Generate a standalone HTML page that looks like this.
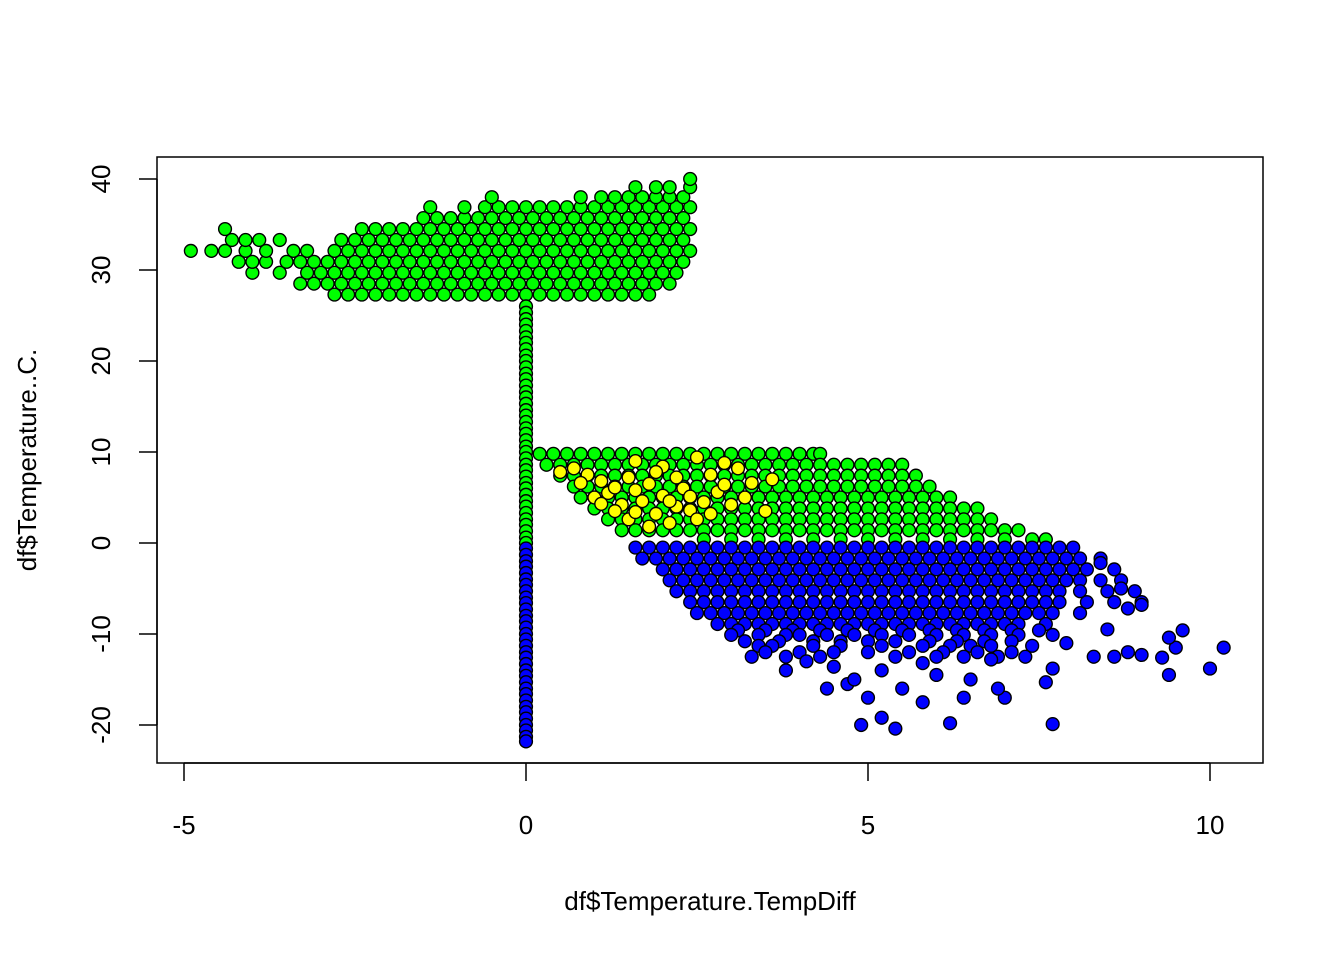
<!DOCTYPE html>
<html><head><meta charset="utf-8"><style>
body{margin:0;background:#fff}
svg{display:block;font-family:"Liberation Sans",Arial,sans-serif}
</style></head><body>
<svg id="chart" width="1344" height="960" viewBox="0 0 1344 960">
<rect x="157" y="157" width="1106" height="606" fill="none" stroke="#000" stroke-width="1.5"/>
<g id="pts"></g>
<g id="axes"></g>
<text x="710" y="910" text-anchor="middle" font-size="26">df$Temperature.TempDiff</text>
<text transform="translate(36,460) rotate(-90)" text-anchor="middle" font-size="26">df$Temperature..C.</text>
</svg>
<script>
const xTicks=[-5,0,5,10];
const yTicks=[-20,-10,0,10,20,30,40];
const greenTopRows=[
[27.3,[-2.8,-2.6,-2.4,-2.2,-2,-1.8,-1.6,-1.4,-1.2,-1,-0.8,-0.6,-0.4,-0.2,0,0.2,0.4,0.6,0.8,1,1.2,1.4,1.6,1.8]],
[28.5,[-3.3,-3.1,-2.9,-2.7,-2.5,-2.3,-2.1,-1.9,-1.7,-1.5,-1.3,-1.1,-0.9,-0.7,-0.5,-0.3,-0.1,0.1,0.3,0.5,0.7,0.9,1.1,1.3,1.5,1.7,1.9,2.1]],
[29.7,[-4,-3.6,-3.2,-3,-2.8,-2.6,-2.4,-2.2,-2,-1.8,-1.6,-1.4,-1.2,-1,-0.8,-0.6,-0.4,-0.2,0,0.2,0.4,0.6,0.8,1,1.2,1.4,1.6,1.8,2,2.2]],
[30.9,[-4.2,-4,-3.8,-3.5,-3.3,-3.1,-2.9,-2.7,-2.5,-2.3,-2.1,-1.9,-1.7,-1.5,-1.3,-1.1,-0.9,-0.7,-0.5,-0.3,-0.1,0.1,0.3,0.5,0.7,0.9,1.1,1.3,1.5,1.7,1.9,2.1,2.3]],
[32.1,[-4.9,-4.6,-4.4,-4.1,-3.8,-3.4,-3.2,-2.8,-2.6,-2.4,-2.2,-2,-1.8,-1.6,-1.4,-1.2,-1,-0.8,-0.6,-0.4,-0.2,0,0.2,0.4,0.6,0.8,1,1.2,1.4,1.6,1.8,2,2.2,2.4]],
[33.3,[-4.3,-4.1,-3.9,-3.6,-2.7,-2.5,-2.3,-2.1,-1.9,-1.7,-1.5,-1.3,-1.1,-0.9,-0.7,-0.5,-0.3,-0.1,0.1,0.3,0.5,0.7,0.9,1.1,1.3,1.5,1.7,1.9,2.1,2.3]],
[34.5,[-4.4,-2.4,-2.2,-2,-1.8,-1.6,-1.4,-1.2,-1,-0.8,-0.6,-0.4,-0.2,0,0.2,0.4,0.6,0.8,1,1.2,1.4,1.6,1.8,2,2.2,2.4]],
[35.7,[-1.5,-1.3,-1.1,-0.9,-0.7,-0.5,-0.3,-0.1,0.1,0.3,0.5,0.7,0.9,1.1,1.3,1.5,1.7,1.9,2.1,2.3]],
[36.9,[-1.4,-0.9,-0.6,-0.4,-0.2,0,0.2,0.4,0.6,0.8,1,1.2,1.4,1.6,1.8,2,2.2,2.4]],
[38,[-0.5,0.8,1.1,1.3,1.5,1.7,1.9,2.1,2.3]],
[39.1,[1.6,1.9,2.1,2.4]],
[40,[2.4]]
];
const vertGreenY=[26,25.3,24.6,24,23.3,22.6,22,21.3,20.6,20,19.3,18.6,18,17.3,16.6,16,15.3,14.6,14,13.3,12.6,12,11.3,10.6,10,9.3,8.6,8,7.3,6.6,6,5.3,4.6,4,3.3,2.6,2,1.3,0.6,0];
const vertBlueY=[-0.6,-1.3,-2,-2.6,-3.3,-4,-4.6,-5.3,-6,-6.6,-7.3,-8,-8.6,-9.3,-10,-10.6,-11.3,-12,-12.6,-13.3,-14,-14.6,-15.3,-16,-16.6,-17.3,-18,-18.6,-19.3,-20,-20.6,-21.3,-21.8];
const greenTriRows=[
[9.8,[0.2,0.4,0.6,0.8,1,1.2,1.4,1.6,1.8,2,2.2,2.4,2.6,2.8,3,3.2,3.4,3.6,3.8,4,4.2,4.3]],
[8.6,[0.3,0.5,0.7,0.9,1.1,1.3,1.5,1.7,1.9,2.1,2.3,2.5,2.7,2.9,3.1,3.3,3.5,3.7,3.9,4.1,4.3,4.5,4.7,4.9,5.1,5.3,5.5]],
[7.4,[0.5,0.7,0.9,1.1,1.3,1.5,1.7,1.9,2.1,2.3,2.5,2.7,2.9,3.1,3.3,3.5,3.7,3.9,4.1,4.3,4.5,4.7,4.9,5.1,5.3,5.5,5.7]],
[6.2,[0.7,0.9,1.1,1.3,1.5,1.7,1.9,2.1,2.3,2.5,2.7,2.9,3.1,3.3,3.5,3.7,3.9,4.1,4.3,4.5,4.7,4.9,5.1,5.3,5.5,5.7,5.9]],
[5,[0.8,1,1.2,1.4,1.6,1.8,2,2.2,2.4,2.6,2.8,3,3.2,3.4,3.6,3.8,4,4.2,4.4,4.6,4.8,5,5.2,5.4,5.6,5.8,6,6.2]],
[3.8,[1,1.2,1.4,1.6,1.8,2,2.2,2.4,2.6,2.8,3,3.2,3.4,3.6,3.8,4,4.2,4.4,4.6,4.8,5,5.2,5.4,5.6,5.8,6,6.2,6.4,6.6]],
[2.6,[1.2,1.4,1.6,1.8,2,2.2,2.4,2.6,2.8,3,3.2,3.4,3.6,3.8,4,4.2,4.4,4.6,4.8,5,5.2,5.4,5.6,5.8,6,6.2,6.4,6.6,6.8]],
[1.4,[1.4,1.6,1.8,2,2.2,2.4,2.6,2.8,3,3.2,3.4,3.6,3.8,4,4.2,4.4,4.6,4.8,5,5.2,5.4,5.6,5.8,6,6.2,6.4,6.6,6.8,7,7.2]],
[0.4,[2.6,3,3.4,3.8,4.2,4.6,5,5.4,5.8,6.2,6.6,7,7.4,7.6]]
];
const yellowPts=[[0.7,8.2],[0.9,7.5],[1.1,6.8],[1.2,5.5],[1,5],[1.4,4.2],[1.6,5.8],[1.8,6.5],[1.5,7.2],[2,5.2],[2.2,4],[1.9,3.2],[2.4,3.6],[2.6,4.5],[2.3,6],[2.7,7.5],[2.9,8.8],[3.1,8.2],[3.3,6.6],[2.5,2.6],[1.8,1.8],[2.1,2.2],[3.5,3.5],[3,4.2],[1.3,3.5],[2.8,5.6],[2,8.4],[2.5,9.4],[1.6,9],[0.5,7.8],[3.6,7],[3.2,5],[1.7,4.6],[2.2,7.2],[1.5,2.6],[2.7,3.2],[1.3,6.1],[1.1,4.3],[2.4,5.1],[1.9,7.8],[0.8,6.6],[2.9,6.4],[1.6,3.4],[2.1,4.6]];
const blueRows=[
[-0.5,[1.6,1.8,2,2.2,2.4,2.6,2.8,3,3.2,3.4,3.6,3.8,4,4.2,4.4,4.6,4.8,5,5.2,5.4,5.6,5.8,6,6.2,6.4,6.6,6.8,7,7.2,7.4,7.6,7.8,8]],
[-1.7,[1.7,1.9,2.1,2.3,2.5,2.7,2.9,3.1,3.3,3.5,3.7,3.9,4.1,4.3,4.5,4.7,4.9,5.1,5.3,5.5,5.7,5.9,6.1,6.3,6.5,6.7,6.9,7.1,7.3,7.5,7.7,7.9,8.1,8.4]],
[-2.9,[2,2.2,2.4,2.6,2.8,3,3.2,3.4,3.6,3.8,4,4.2,4.4,4.6,4.8,5,5.2,5.4,5.6,5.8,6,6.2,6.4,6.6,6.8,7,7.2,7.4,7.6,7.8,8,8.2,8.6]],
[-4.1,[2.1,2.3,2.5,2.7,2.9,3.1,3.3,3.5,3.7,3.9,4.1,4.3,4.5,4.7,4.9,5.1,5.3,5.5,5.7,5.9,6.1,6.3,6.5,6.7,6.9,7.1,7.3,7.5,7.7,7.9,8.1,8.4,8.7]],
[-5.3,[2.2,2.4,2.6,2.8,3,3.2,3.4,3.6,3.8,4,4.2,4.4,4.6,4.8,5,5.2,5.4,5.6,5.8,6,6.2,6.4,6.6,6.8,7,7.2,7.4,7.6,7.8,8.1,8.5,8.9]],
[-6.5,[2.4,2.6,2.8,3,3.2,3.4,3.6,3.8,4,4.2,4.4,4.6,4.8,5,5.2,5.4,5.6,5.8,6,6.2,6.4,6.6,6.8,7,7.2,7.4,7.6,7.8,8.2,8.6,9]],
[-7.7,[2.5,2.7,2.9,3.1,3.3,3.5,3.7,3.9,4.1,4.3,4.5,4.7,4.9,5.1,5.3,5.5,5.7,5.9,6.1,6.3,6.5,6.7,6.9,7.1,7.3,7.5,7.7,8.1]],
[-8.9,[2.8,3,3.2,3.4,3.6,3.8,4,4.2,4.4,4.6,4.8,5,5.2,5.4,5.6,5.8,6,6.2,6.4,6.6,6.8,7,7.2,7.6]],
[-9.6,[3.1,3.5,3.9,4.3,4.7,5.1,5.5,5.9,6.3,6.7,7.1,7.5]],
[-10.1,[3,3.4,3.8,4,4.4,4.8,5.2,5.6,6,6.4,6.8,7.2,7.7]],
[-10.8,[3.2,3.7,4.2,4.6,5,5.4,5.9,6.3,6.7,7.1]],
[-11.3,[3.4,3.6,4.2,4.6,5.2,5.8,6.2,6.5,6.8,7.4]],
[-12,[3.5,4,4.5,5,5.6,6.1,6.6,7.1]],
[-12.5,[3.3,3.8,4.3,5.4,6,6.4,6.9,7.3]]
];
const blueOutliers=[[8.3,-12.5],[8.6,-12.5],[9,-12.3],[9.3,-12.6],[9.5,-11.5],[9.6,-9.6],[9.4,-14.5],[10.2,-11.5],[10,-13.8],[9.4,-10.4],[4.9,-20],[5.2,-19.2],[5.4,-20.4],[6.2,-19.8],[7.7,-19.9],[5,-17],[5.8,-17.5],[6.4,-17],[7,-17],[4.4,-16],[5.5,-16],[6.9,-16],[7.6,-15.3],[4.7,-15.5],[3.8,-14],[5.2,-14],[6.5,-15],[8.8,-12],[8.5,-9.5],[8.8,-7.2],[9,-6.8],[8.7,-5],[8.4,-2.2],[7.9,-11],[7.7,-13.8],[4.1,-13],[6,-14.5],[4.5,-13.6],[5.8,-13.2],[6.8,-12.8],[4.8,-15]];

const xs=v=>526+v*68.4;
const ys=v=>543-v*9.1;
const NS='http://www.w3.org/2000/svg';
const pts=document.getElementById('pts');
const axes=document.getElementById('axes');
function dot(x,y,col,name){
  const c=document.createElementNS(NS,'circle');
  c.setAttribute('cx',xs(x));c.setAttribute('cy',ys(y));c.setAttribute('r',6.4);
  c.setAttribute('fill',col);c.setAttribute('stroke','#000');c.setAttribute('stroke-width',1.4);
  
  
  pts.appendChild(c);
}
greenTopRows.forEach(r=>r[1].forEach(x=>dot(x,r[0],'#00ff00','point-green')));
vertGreenY.forEach(y=>dot(0,y,'#00ff00','point-green'));
vertBlueY.forEach(y=>dot(0,y,'#0000ff','point-blue'));
greenTriRows.forEach(r=>r[1].forEach(x=>dot(x,r[0],'#00ff00','point-green')));
yellowPts.forEach(p=>dot(p[0],p[1],'#ffff00','point-yellow'));
blueRows.forEach(r=>r[1].forEach(x=>dot(x,r[0],'#0000ff','point-blue')));
blueOutliers.forEach(p=>dot(p[0],p[1],'#0000ff','point-blue'));

function line(x1,y1,x2,y2,name){
  const l=document.createElementNS(NS,'line');
  l.setAttribute('x1',x1);l.setAttribute('y1',y1);l.setAttribute('x2',x2);l.setAttribute('y2',y2);
  l.setAttribute('stroke','#000');l.setAttribute('stroke-width',1.5);
  
  
  axes.appendChild(l);
}
function txt(x,y,s,tr,name){
  const t=document.createElementNS(NS,'text');
  t.setAttribute('x',x);t.setAttribute('y',y);t.setAttribute('font-size',26);
  t.setAttribute('text-anchor','middle');
  if(tr)t.setAttribute('transform',tr);
  t.textContent=s;
  
  
  axes.appendChild(t);
}
line(xs(xTicks[0]),763,xs(xTicks[xTicks.length-1]),763,'x-axis-line');
xTicks.forEach(v=>{line(xs(v),763,xs(v),781,'x-tick');txt(xs(v),834,String(v),null,'x-tick-label');});
line(157,ys(yTicks[0]),157,ys(yTicks[yTicks.length-1]),'y-axis-line');
yTicks.forEach(v=>{line(157,ys(v),139,ys(v),'y-tick');txt(0,0,String(v),'translate(110,'+ys(v)+') rotate(-90)','y-tick-label');});
</script>
</body></html>
